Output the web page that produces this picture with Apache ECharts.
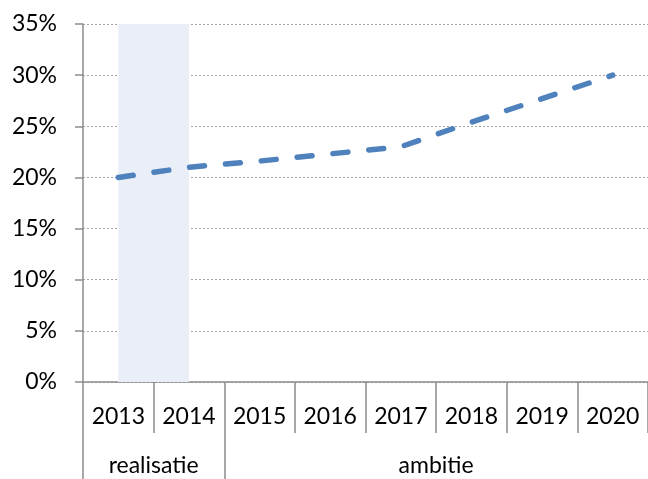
<!DOCTYPE html>
<html>
<head>
<meta charset="utf-8">
<script src="https://cdn.jsdelivr.net/npm/echarts@6/dist/echarts.min.js"></script>
<style>
  html, body { margin: 0; padding: 0; background: #fff; }
  #chart { width: 648px; height: 479px; }
</style>
</head>
<body>
<div id="chart"></div>
<script>
  // categorieën en waarden (percentage)
  const years = ["2013", "2014", "2015", "2016", "2017", "2018", "2019", "2020"];
  const share = [20, 21, 21.6, 22.3, 23, 25.4, 27.7, 30];
  const groups = ["realisatie", "ambitie"];
  const groupCenters = [1, 5];      // positie op de groepsas (in categorieën)
  const groupEdges = [0, 2];
  const shaded = ["2013", "2014"];

  const FONT = "Lato, 'Open Sans', sans-serif";
  const AXIS = "#8c8c8c";
  const FS = 23;

  const chart = echarts.init(document.getElementById("chart"));
  chart.setOption({
    animation: false,
    textStyle: { fontFamily: FONT },
    grid: { left: 83, right: 0, top: 24, bottom: 97 },
    xAxis: [
      {
        type: "category",
        data: years,
        boundaryGap: true,
        axisLine: { lineStyle: { color: AXIS, width: 1.5 } },
        axisTick: { show: true, interval: 0, alignWithLabel: false, length: 51, lineStyle: { color: AXIS, width: 1.5 } },
        axisLabel: { interval: 0, margin: 23, fontSize: FS, color: "#000", fontFamily: FONT },
      },
      {
        type: "value",
        position: "bottom",
        min: 0,
        max: 8,
        axisLine: { show: false },
        splitLine: { show: false },
        axisTick: { show: true, customValues: groupEdges, length: 97, lineStyle: { color: AXIS, width: 1.5 } },
        axisLabel: {
          customValues: groupCenters,
          margin: 72,
          fontSize: FS,
          color: "#000",
          fontFamily: FONT,
          formatter: (v) => groups[groupCenters.indexOf(v)] || "",
        },
      },
    ],
    yAxis: {
      type: "value",
      min: 0,
      max: 35,
      interval: 5,
      axisLine: { show: true, lineStyle: { color: AXIS, width: 1.5 } },
      axisTick: { show: true, length: 8, lineStyle: { color: AXIS, width: 1.5 } },
      axisLabel: { margin: 26, fontSize: FS, color: "#000", fontFamily: FONT, formatter: "{value}%" },
      splitLine: { lineStyle: { color: "#a6a6a6", type: [2, 2], width: 1 } },
    },
    series: [
      {
        type: "line",
        xAxisIndex: 0,
        data: [],
        z: -1,
        markArea: {
          silent: true,
          itemStyle: { color: "#eaeff7" },
          data: [[{ xAxis: shaded[0] }, { xAxis: shaded[1] }]],
        },
      },
      {
        type: "line",
        xAxisIndex: 0,
        data: share,
        showSymbol: false,
        lineStyle: { color: "#4f81bd", width: 5.5, type: [15, 21], cap: "round" },
        z: 3,
      },
    ],
  });
</script>
</body>
</html>
